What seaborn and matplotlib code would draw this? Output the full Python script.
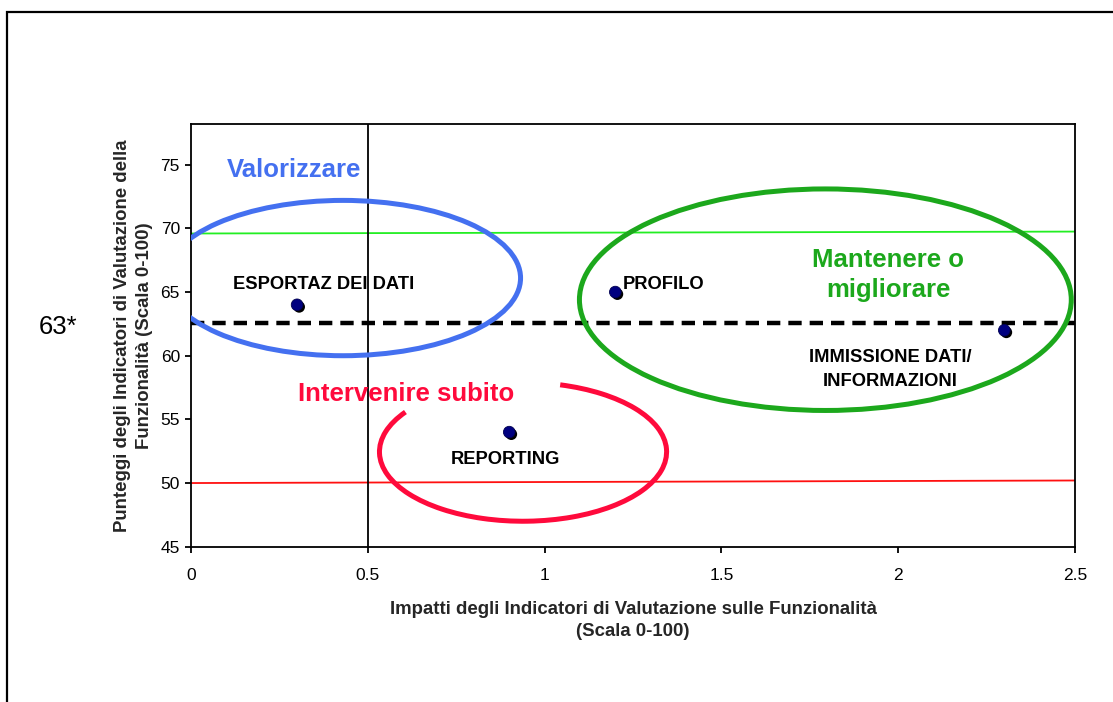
import numpy as np
import pandas as pd
import matplotlib
matplotlib.use("Agg")
import matplotlib.pyplot as plt
import matplotlib.patheffects as pe
from matplotlib.patches import Ellipse, Arc, Rectangle
import seaborn as sns

# Funzionalità valutate: impatto (asse x) e punteggio (asse y)
funzionalita = ["ESPORTAZ DEI DATI", "PROFILO", "IMMISSIONE DATI/\nINFORMAZIONI", "REPORTING"]
impatti = [0.3, 1.2, 2.3, 0.9]
punteggi = [64, 65, 62, 54]

# Soglie di riferimento
soglia_media = 62.6            # punteggio medio (linea tratteggiata)
soglia_alta_y = [69.6, 69.75]  # linea verde, estremi a x = 0 e x = 2.5
soglia_bassa_y = [50.0, 50.2]  # linea rossa, estremi a x = 0 e x = 2.5
soglia_x = [0.0, 2.5]
impatto_soglia = 0.5

x_ticks = [0, 0.5, 1, 1.5, 2, 2.5]
x_tick_labels = ["0", "0.5", "1", "1.5", "2", "2.5"]
y_ticks = [45, 50, 55, 60, 65, 70, 75]

df = pd.DataFrame({"funzionalita": funzionalita, "impatto": impatti, "punteggio": punteggi})

sns.set_theme(style="white")
plt.rcParams["font.family"] = ["Liberation Sans", "DejaVu Sans"]

BLU = "#4470F0"
VERDE = "#1CA81C"
ROSSO = "#FF0A3C"

fig = plt.figure(figsize=(11.13, 7.02), dpi=100)
ax = fig.add_axes([191 / 1113, 1 - 546.7 / 702, (1075 - 191) / 1113, (546.7 - 124) / 702])

ax.set_xlim(0, 2.5)
ax.set_ylim(45, 78.2)

# linee di soglia
ax.plot(soglia_x, soglia_alta_y, color="#22EE22", lw=1.3, zorder=2)
ax.plot(soglia_x, soglia_bassa_y, color="#FF1010", lw=1.3, zorder=2)
ax.axvline(impatto_soglia, color="black", lw=1.3, zorder=2)
ax.axhline(soglia_media, color="black", lw=3.2, dashes=(3.0, 1.8), zorder=2)

# aree di intervento
ax.add_patch(Ellipse((0.43, 66.1), 1.004, 12.2, fill=False, ec=BLU, lw=3.6, zorder=3))
ax.add_patch(Ellipse((1.794, 64.4), 1.391, 17.4, fill=False, ec=VERDE, lw=3.6, zorder=3))

rw, rh = 0.812, 10.9
def geom_angle(t_deg):
    t = np.deg2rad(t_deg)
    return np.rad2deg(np.arctan2((rh / rw) * np.sin(t), np.cos(t)))
ax.add_patch(Arc((0.939, 52.45), rw, rh, theta1=geom_angle(145), theta2=geom_angle(75),
                 ec=ROSSO, lw=3.6, zorder=3))

# punti
sns.scatterplot(data=df, x="impatto", y="punteggio", ax=ax, s=70, color="#000080",
                edgecolor="#000050", linewidth=0.6, zorder=5,
                path_effects=[pe.SimplePatchShadow(offset=(1.5, -1.5), shadow_rgbFace="black", alpha=1.0),
                              pe.Normal()])

# etichette dei punti
offsets = {
    "ESPORTAZ DEI DATI": ((27, 20), "center", "center"),
    "PROFILO": ((7, 8), "left", "center"),
    "IMMISSIONE DATI/\nINFORMAZIONI": ((-114, -39), "center", "center"),
    "REPORTING": ((-4, -27), "center", "center"),
}
for name, xv, yv in zip(funzionalita, impatti, punteggi):
    (dx, dy), ha, va = offsets[name]
    ax.annotate(name, (xv, yv), xytext=(dx, dy), textcoords="offset pixels",
                ha=ha, va=va, fontsize=13.2, fontweight="bold", color="black",
                linespacing=1.55, zorder=6)

# titoli delle aree
ax.text(0.291, 74.55, "Valorizzare", color=BLU, fontsize=18.5, fontweight="bold", ha="center", va="center")
ax.text(1.972, 66.35, "Mantenere o\nmigliorare", color=VERDE, fontsize=18.5, fontweight="bold",
        ha="center", va="center", linespacing=1.32)
ax.text(0.608, 57.0, "Intervenire subito", color=ROSSO, fontsize=18.5, fontweight="bold",
        ha="center", va="center")

# valore della soglia media, fuori dall'area del grafico
ax.annotate(f"{round(soglia_media)}*", (0, soglia_media), xycoords="data",
            xytext=(58 - 191, -4), textcoords="offset pixels",
            ha="center", va="center", fontsize=18.5, color="black", annotation_clip=False)

ax.set_xticks(x_ticks)
ax.set_xticklabels(x_tick_labels)
ax.set_yticks(y_ticks)
ax.tick_params(axis="both", which="major", labelsize=12.5, colors="black",
               direction="out", length=4, width=1.3)
ax.tick_params(axis="x", pad=11)
ax.tick_params(axis="y", pad=4)
ax.xaxis.set_ticks_position("bottom")
ax.yaxis.set_ticks_position("left")

for sp in ax.spines.values():
    sp.set_visible(True)
    sp.set_color("black")
    sp.set_linewidth(1.3)

ax.set_xlabel("Impatti degli Indicatori di Valutazione sulle Funzionalità\n(Scala 0-100)",
              fontsize=13.4, fontweight="bold", labelpad=13, linespacing=1.4)
ax.set_ylabel("Punteggi degli Indicatori di Valutazione della\nFunzionalità (Scala 0-100)",
              fontsize=13.4, fontweight="bold", labelpad=5, linespacing=1.4)

# cornice esterna
fig.add_artist(Rectangle((7 / 1113, -0.2), 1.5, 1.2 - 12 / 702, transform=fig.transFigure,
                         fill=False, ec="black", lw=1.6))

fig.savefig("out.png", dpi=100)
